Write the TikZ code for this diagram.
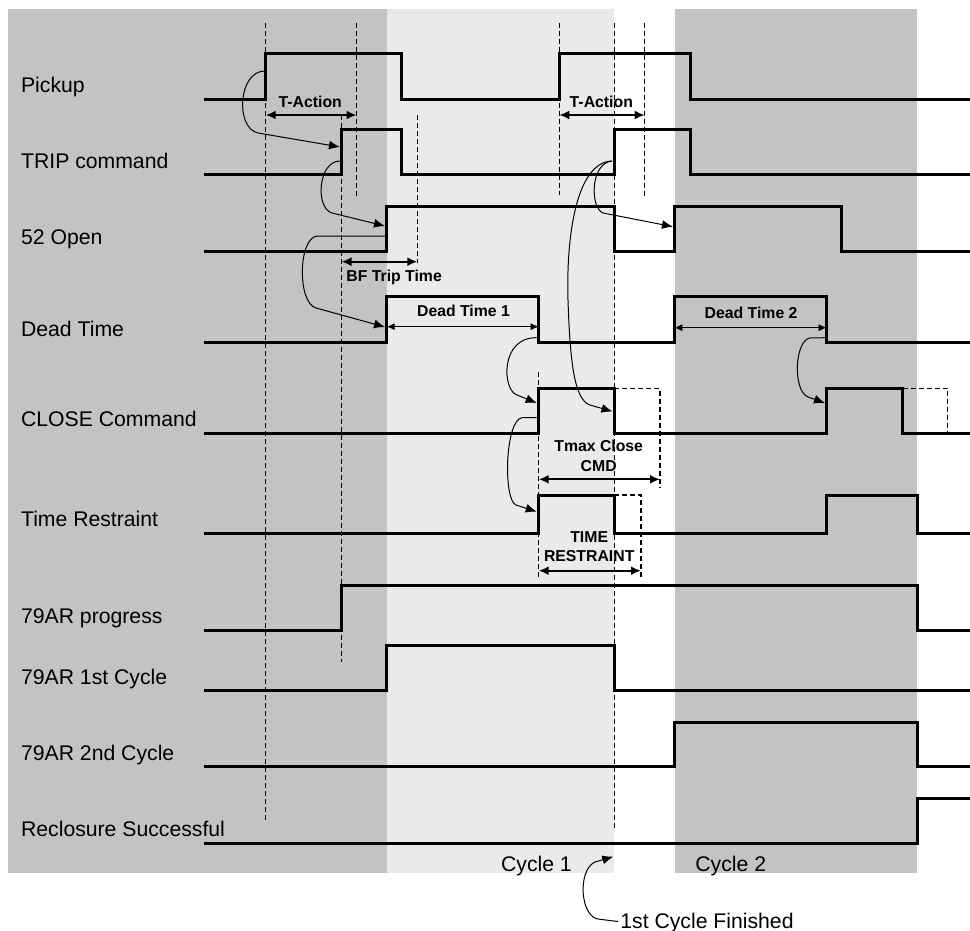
\documentclass[tikz,border=0pt]{standalone}
\usepackage{fontspec}
\setmainfont{Liberation Sans}
\usetikzlibrary{arrows.meta}
\definecolor{bgdark}{HTML}{C3C3C3}
\definecolor{bglight}{HTML}{EAEAEA}
\begin{document}
\begin{tikzpicture}[x=0.5pt,y=-0.5pt,
  sig/.style={line width=1.5pt, line join=miter, line cap=butt},
  ghost/.style={line width=0.6pt, dash pattern=on 2.5pt off 1.5pt},
  guide/.style={line width=0.5pt, dash pattern=on 2.5pt off 1.5pt},
  link/.style={line width=0.5pt, -{Latex[length=5.5pt,width=4.5pt]}},
  span/.style={line width=1pt, {Latex[length=5pt,width=4.5pt]}-{Latex[length=5pt,width=4.5pt]}},
  thinspan/.style={line width=0.5pt, {Latex[length=4pt,width=3.5pt]}-{Latex[length=4pt,width=3.5pt]}},
  lbl/.style={font=\fontsize{10.6}{12}\selectfont, anchor=base west, inner sep=0pt},
  tag/.style={font=\bfseries\fontsize{7.9}{9.5}\selectfont, inner sep=0pt, anchor=base west},
  ctag/.style={font=\bfseries\fontsize{7.9}{9.5}\selectfont, inner sep=0pt, anchor=base},
]
\useasboundingbox (0,0) rectangle (970,931);
% background bands
\fill[bgdark] (8,9) rectangle (387,873);
\fill[bglight] (387,9) rectangle (614.3,873);
\fill[bgdark] (675,9) rectangle (917,873);

% dashed guides
\draw[guide] (265.7,23) -- (265.7,822);
\draw[guide] (356.5,23) -- (356.5,197);
\draw[guide] (341.5,115) -- (341.5,662);
\draw[guide] (417.3,115) -- (417.3,263);
\draw[guide] (559.3,23) -- (559.3,195);
\draw[guide] (614.3,23) -- (614.3,828);
\draw[guide] (644.7,23) -- (644.7,197);
\draw[guide] (538.7,372) -- (538.7,577);

% signals
\draw[sig] (204,99.3) -| (265.7,53.3) -| (401.7,99.3) -| (559.3,53.3) -| (690,99.3) -- (970,99.3);
\draw[sig] (204,175) -| (341.3,130) -| (401.7,175) -| (614.3,130) -| (690,175) -- (970,175);
\draw[sig] (204,251) -| (386.7,206.7) -| (614.3,251) -| (674.3,206.7) -| (841.7,251) -- (970,251);
\draw[sig] (204,342.7) -| (386.7,296.7) -| (538.7,342.7) -| (674.3,296.7) -| (826.7,342.7) -- (970,342.7);
\draw[sig] (204,433.3) -| (538.7,388.3) -| (614.3,433.3) -| (826.7,388.3) -| (902.7,433.3) -- (970,433.3);
\draw[ghost] (614.3,388.3) -| (660,488);
\draw[ghost] (902.7,388.3) -| (947.7,433.3);
\draw[sig] (204,533.3) -| (538.7,495) -| (614.3,533.3) -| (826.7,495) -| (917,533.3) -- (970,533.3);
\draw[ghost] (614.3,495) -| (641,577);
\draw[sig] (204,630) -| (341.7,585) -| (917,630) -- (970,630);
\draw[sig] (204,690.7) -| (386.7,645.7) -| (614.3,690.7) -- (970,690.7);
\draw[sig] (204,766.7) -| (674.3,722.3) -| (917,766.7) -- (970,766.7);
\draw[sig] (204,843.3) -| (917,798.3) -- (970,798.3);

% signal names
\node[lbl] (lpick) at (20.7,93) {Pickup};
\node[lbl] (ltrip) at (20.7,168.5) {TRIP command};
\node[lbl] (lopen) at (20.7,244.5) {52 Open};
\node[lbl] (ldead) at (20.7,336) {Dead Time};
\node[lbl] (lclose) at (20.7,426.8) {CLOSE Command};
\node[lbl] (lrestr) at (20.7,526.8) {Time Restraint};
\node[lbl] (lprog) at (20.7,623.5) {79AR progress};
\node[lbl] (lcyc1) at (20.7,684.5) {79AR 1st Cycle};
\node[lbl] (lcyc2) at (20.7,760.5) {79AR 2nd Cycle};
\node[lbl] (lrecl) at (20.7,836.8) {Reclosure Successful};

% time spans
\draw[span] (265.7,115) -- (356.5,115);
\node[tag] (ta1) at (278.3,107.3) {T-Action};
\draw[span] (559.3,115) -- (644.7,115);
\node[tag] (ta2) at (569.3,107.3) {T-Action};
\draw[span] (341.5,261.7) -- (417.3,261.7);
\node[tag] (bf) at (346,281) {BF Trip Time};
\draw[thinspan] (386.7,326.7) -- (538.7,326.7);
\node[tag] (dt1) at (416.7,316.7) {Dead Time 1};
\draw[thinspan] (674.3,327.7) -- (826.7,327.7);
\node[tag] (dt2) at (704.3,318.3) {Dead Time 2};
\draw[span] (538.7,479.3) -- (660,479.3);
\node[ctag] (tm1) at (598.7,451.7) {Tmax Close};
\node[ctag] (tm2) at (598.7,471) {CMD};
\draw[span] (538.7,570.7) -- (641,570.7);
\node[ctag] (tr1) at (589.2,542.7) {TIME};
\node[ctag] (tr2) at (589.2,561.7) {RESTRAINT};

% causal links
\draw[link] (265,71) .. controls (238,71) and (235,128) .. (258,133) -- (340,147);
\draw[link] (340,161) .. controls (318,161) and (315,208) .. (332,213) -- (385,226);
\draw[link] (385,236) -- (318,236) .. controls (298,236) and (297,303) .. (316,308) -- (385,327);
\draw[link] (536.7,337.7) .. controls (500,337) and (502,390) .. (517,395) -- (536.7,403);
\draw[link] (536.7,417.7) -- (522,417.7) .. controls (505,420) and (503,500) .. (516,505) -- (536.7,511.7);
\draw[link] (612,161) .. controls (578,162) and (566,230) .. (568,300) .. controls (570,360) and (574,400) .. (590,405) -- (612.5,411.5);
\draw[link] (612,161) .. controls (590,163) and (590,208) .. (603,213) -- (673,226.7);
\draw[link] (825,337.7) -- (810,338) .. controls (795,340) and (792,390) .. (808,397) -- (825,403);

% cycles
\node[lbl] (c1) at (500.7,871.7) {Cycle 1};
\node[lbl] (c2) at (695,871.7) {Cycle 2};
\node[lbl] (fin) at (620,928) {1st Cycle Finished};
\draw[link] (fin.west) ++(-2,-1) -- (600,919.3) .. controls (580,919) and (577,870) .. (595,862) -- (613.3,856.7);
\end{tikzpicture}
\end{document}
